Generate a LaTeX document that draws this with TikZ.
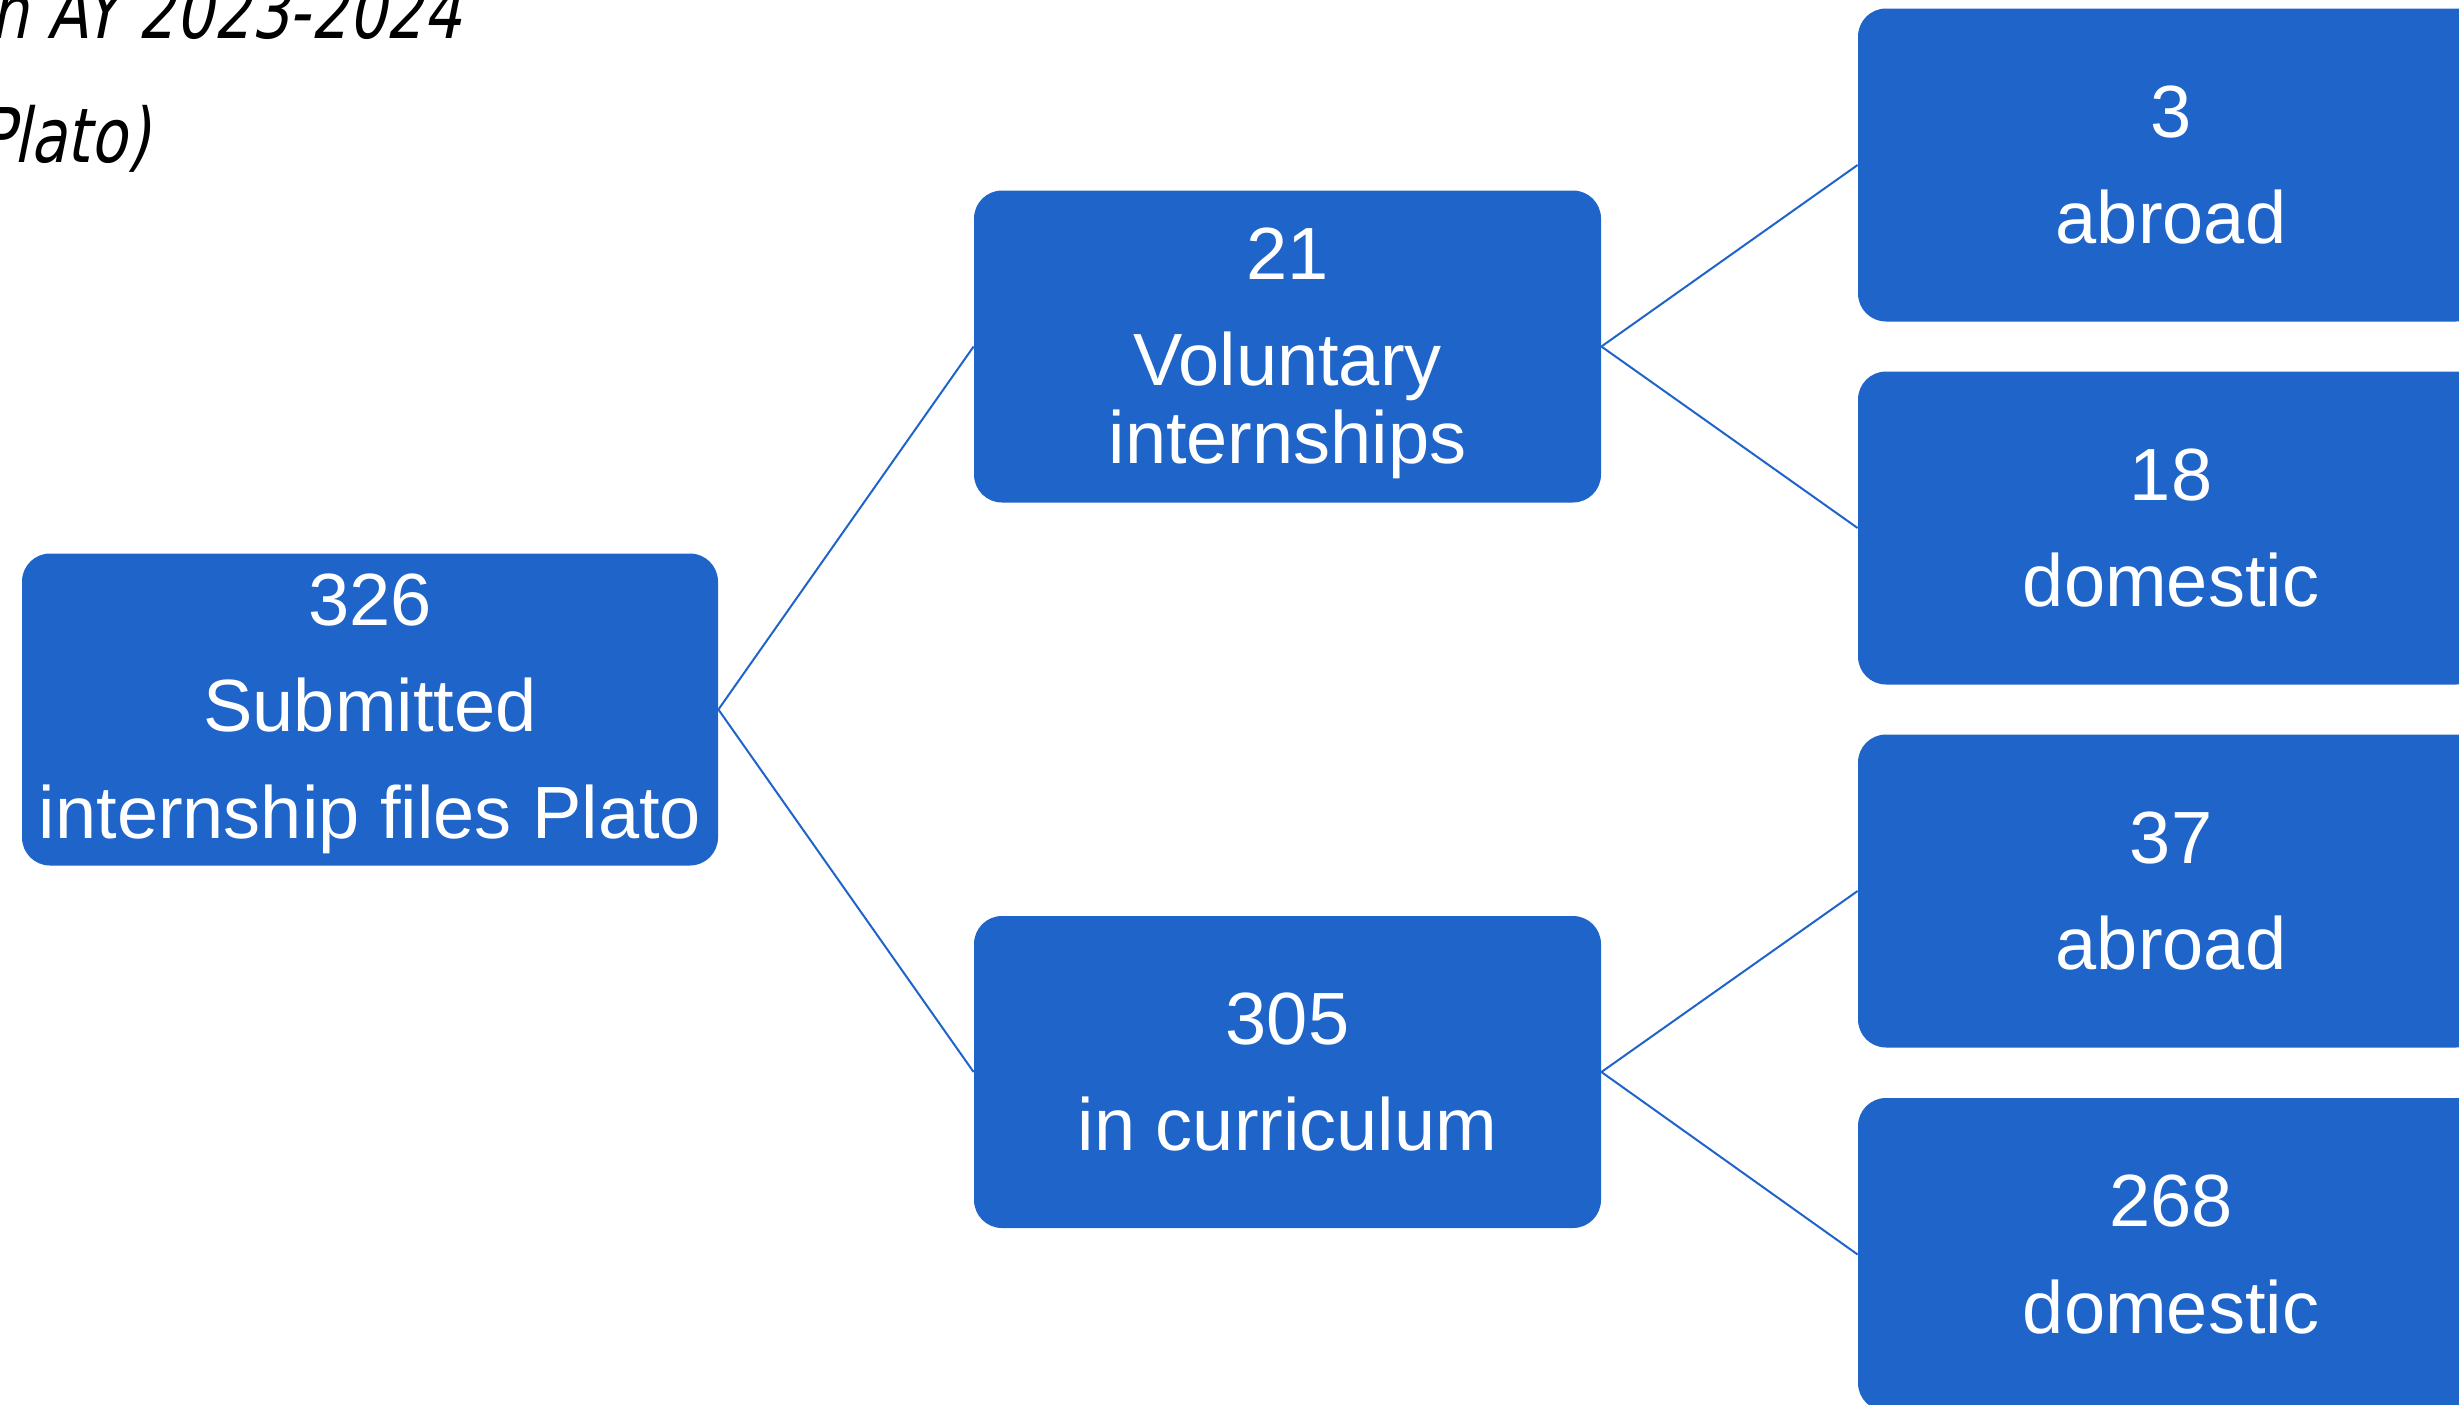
\documentclass[tikz,border=0pt]{standalone}
\usepackage{fontspec}
\setmainfont{Liberation Sans}
\newfontfamily\titlefont{DejaVu Sans Condensed}[FakeSlant=0.2,FakeStretch=0.876]
\definecolor{boxblue}{HTML}{1F64C8}
\begin{document}
\begin{tikzpicture}[x=0.5pt,y=-0.5pt,
  box/.style={fill=boxblue, draw=none, rounded corners=14pt, text=white,
    align=center, inner sep=0pt, font=\fontsize{37pt}{53.25pt}\selectfont},
  rootbox/.style={box, minimum width=348pt, minimum height=156pt},
  midbox/.style={box, minimum width=313.5pt, minimum height=156pt},
  leafbox/.style={box, minimum width=313pt, minimum height=156.5pt},
  link/.style={draw=boxblue, line width=1pt},
  title/.style={anchor=base east, inner sep=0pt, font=\titlefont\fontsize{37.7pt}{45pt}\selectfont}]
\useasboundingbox (0,0) rectangle (2459,1404);
\node[title] (t1) at (462,38) {n AY 2023-2024};
\node[title] (t2) at (150,162) {Plato)};
\node[rootbox] (root) at (370,709.5) {\rule{0pt}{30pt}326\\Submitted\\internship files Plato};
\node[midbox] (vol) at (1287.5,346.5) {\rule{0pt}{32.5pt}21\\Voluntary\\[-14.25pt]internships};
\node[midbox] (cur) at (1287.5,1072) {305\\in curriculum};
\node[leafbox] (va) at (2171,165) {3\\abroad};
\node[leafbox] (vd) at (2171,528) {18\\domestic};
\node[leafbox] (ca) at (2171,891) {37\\abroad};
\node[leafbox] (cd) at (2171,1254.5) {268\\domestic};
\draw[link] (root.east) -- (vol.west);
\draw[link] (root.east) -- (cur.west);
\draw[link] (vol.east) -- (va.west);
\draw[link] (vol.east) -- (vd.west);
\draw[link] (cur.east) -- (ca.west);
\draw[link] (cur.east) -- (cd.west);
\end{tikzpicture}
\end{document}
